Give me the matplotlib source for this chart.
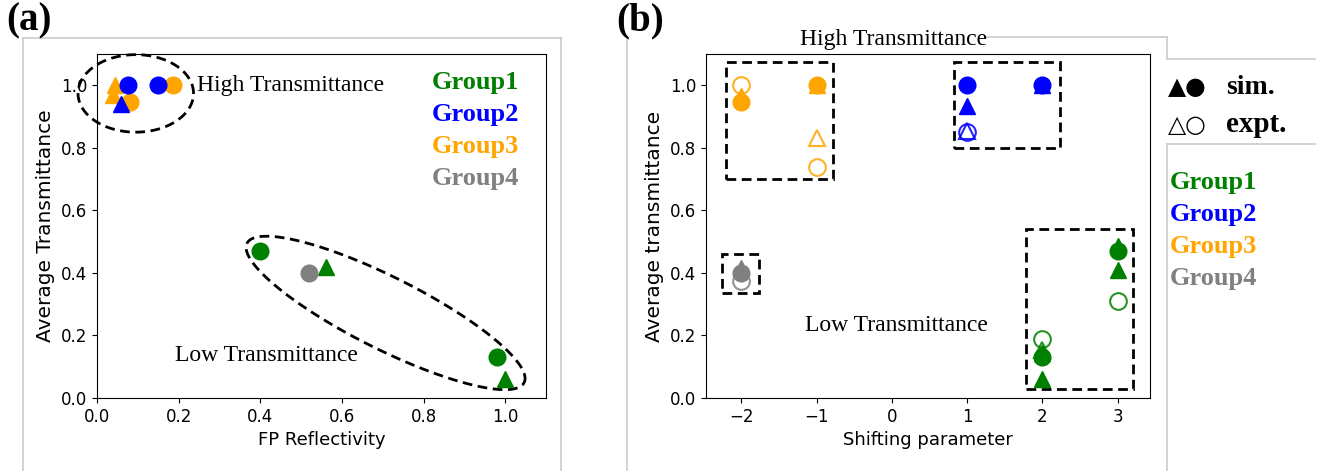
import numpy as np
import matplotlib
matplotlib.use("Agg")
import matplotlib.pyplot as plt
from matplotlib.patches import Rectangle
from matplotlib.lines import Line2D

# ---- data ----
group_names = ["Group1", "Group2", "Group3", "Group4"]
group_colors = ["green", "blue", "orange", "gray"]

# (a) FP reflectivity vs average transmittance (simulation)
fp_circ_x = [[0.40, 0.98], [0.075, 0.15], [0.08, 0.185], [0.52]]
fp_circ_y = [[0.47, 0.13], [1.00, 1.00], [0.945, 1.00], [0.40]]
fp_tri_x = [[0.56, 1.00], [0.06], [0.045, 0.04], []]
fp_tri_y = [[0.42, 0.06], [0.94], [1.00, 0.97], []]

# (b) shifting parameter vs average transmittance
sim_circ_x = [[2, 3], [1, 2], [-2, -1], [-2]]
sim_circ_y = [[0.13, 0.47], [1.00, 1.00], [0.945, 1.00], [0.40]]
sim_tri_x = [[2, 2, 3, 3], [1, 2], [-2, -1], [-2]]
sim_tri_y = [[0.145, 0.06, 0.485, 0.41], [0.935, 1.00], [0.965, 1.00], [0.415]]
exp_circ_x = [[2, 3], [1], [-2, -1], [-2]]
exp_circ_y = [[0.19, 0.31], [0.85], [1.00, 0.74], [0.375]]
exp_tri_x = [[2], [1], [-1], []]
exp_tri_y = [[0.155], [0.855], [0.83], []]

xticks_a = [0.0, 0.2, 0.4, 0.6, 0.8, 1.0]
xticks_b = [-2, -1, 0, 1, 2, 3]
yticks = [0.0, 0.2, 0.4, 0.6, 0.8, 1.0]

SERIF = ["Liberation Serif", "DejaVu Serif"]
MS = 12

fig = plt.figure(figsize=(13.25, 4.71), dpi=100)
W, H = 1325, 471
ax1 = fig.add_axes([97 / W, 73 / H, 449 / W, 344 / H])
ax2 = fig.add_axes([706 / W, 73 / H, 444 / W, 344 / H])


def ellipse(ax, cx, cy, a, b, ang):
    # a, b in x-data units; angle measured on screen
    bb = ax.get_window_extent()
    x0, x1 = ax.get_xlim()
    y0, y1 = ax.get_ylim()
    pxx = bb.width / (x1 - x0)
    pxy = bb.height / (y1 - y0)
    t = np.linspace(0, 2 * np.pi, 300)
    th = np.radians(ang)
    dx = a * pxx * np.cos(t) * np.cos(th) - b * pxx * np.sin(t) * np.sin(th)
    dy = a * pxx * np.cos(t) * np.sin(th) + b * pxx * np.sin(t) * np.cos(th)
    ax.plot(cx + dx / pxx, cy + dy / pxy, color="black", lw=2,
            linestyle=(0, (3.5, 2)), clip_on=False, zorder=1)


# ---- (a) ----
ax1.set_xlim(0, 1.1)
ax1.set_ylim(0, 1.1)
for i in [2, 1, 0, 3]:
    c = group_colors[i]
    ax1.plot(fp_tri_x[i], fp_tri_y[i], "^", color=c, ms=MS, ls="none")
    ax1.plot(fp_circ_x[i], fp_circ_y[i], "o", color=c, ms=MS, ls="none")
ax1.set_xticks(xticks_a)
ax1.set_yticks(yticks)
ax1.tick_params(labelsize=12)
ax1.set_xlabel("FP Reflectivity", fontsize=13)
ax1.set_ylabel("Average Transmittance", fontsize=14.5)
ellipse(ax1, 0.095, 0.974, 0.1415, 0.095, 0)
ellipse(ax1, 0.707, 0.272, 0.38, 0.088, -26.7)
ax1.text(0.245, 1.0, "High Transmittance", family=SERIF, fontsize=17,
         va="center", ha="left")
ax1.text(0.19, 0.135, "Low Transmittance", family=SERIF, fontsize=17,
         va="center", ha="left")
for i, (name, c) in enumerate(zip(group_names, group_colors)):
    ax1.text(0.82, 1.01 - i * 0.103, name, color=c, family=SERIF,
             fontsize=19, fontweight="bold", va="center", ha="left")

# ---- (b) ----
ax2.set_xlim(-2.47, 3.43)
ax2.set_ylim(0, 1.1)
boxes = [(-2.2, 0.70, 1.42, 0.375), (0.82, 0.80, 1.42, 0.275),
         (1.78, 0.03, 1.43, 0.51), (-2.26, 0.335, 0.5, 0.125)]
for (x0, y0, w, h) in boxes:
    ax2.add_patch(Rectangle((x0, y0), w, h, fill=False, ec="black", lw=2,
                            linestyle=(0, (3.5, 2)), zorder=1))
for i in [2, 1, 0, 3]:
    c = group_colors[i]
    ax2.plot(exp_circ_x[i], exp_circ_y[i], "o", ms=MS, mfc="none", mec=c,
             mew=1.5, alpha=0.85, ls="none")
    ax2.plot(exp_tri_x[i], exp_tri_y[i], "^", ms=MS, mfc="none", mec=c,
             mew=1.5, alpha=0.85, ls="none")
    ax2.plot(sim_tri_x[i], sim_tri_y[i], "^", color=c, ms=MS, ls="none")
    ax2.plot(sim_circ_x[i], sim_circ_y[i], "o", color=c, ms=MS, ls="none")
ax2.set_xticks(xticks_b)
ax2.set_yticks(yticks)
ax2.tick_params(labelsize=12)
ax2.set_xlabel("Shifting parameter", fontsize=13)
ax2.set_ylabel("Average transmittance", fontsize=14.5)
ax2.text(-1.15, 0.232, "Low Transmittance", family=SERIF, fontsize=17,
         va="center", ha="left")

# ---- panel frames, labels and side legend ----
frame = dict(color="#cccccc", lw=1.2)
for xs, ys in [([23, 23], [38, 471]), ([23, 561], [38, 38]), ([561, 561], [38, 471]),
               ([627, 627], [40, 471]), ([987, 1167], [37, 37]),
               ([1167, 1167], [37, 59]), ([1167, 1315], [59, 59]),
               ([1167, 1315], [144, 144]), ([1167, 1167], [144, 471])]:
    fig.add_artist(Line2D(np.array(xs) / W, 1 - np.array(ys) / H, **frame))

fig.text(6 / W, 1 - 21 / H, "(a)", family=SERIF, fontsize=28,
         fontweight="bold", va="center", ha="left")
fig.text(616 / W, 1 - 21 / H, "(b)", family=SERIF, fontsize=28,
         fontweight="bold", va="center", ha="left")
fig.text(800 / W, 1 - 40 / H, "High Transmittance", family=SERIF,
         fontsize=17, va="center", ha="left")
fig.text(1168 / W, 1 - 87 / H, "▲●", family=["DejaVu Sans"], fontsize=17,
         va="center", ha="left")
fig.text(1226 / W, 1 - 87 / H, "sim.", family=SERIF, fontsize=20,
         fontweight="bold", va="center", ha="left")
fig.text(1168 / W, 1 - 125 / H, "△○", family=["DejaVu Sans"], fontsize=17,
         va="center", ha="left")
fig.text(1226 / W, 1 - 125 / H, "expt.", family=SERIF, fontsize=21,
         fontweight="bold", va="center", ha="left")
for i, (name, c) in enumerate(zip(group_names, group_colors)):
    fig.text(1170 / W, 1 - (183 + i * 32) / H, name, color=c, family=SERIF,
             fontsize=19, fontweight="bold", va="center", ha="left")

fig.savefig("out.png", dpi=100)
